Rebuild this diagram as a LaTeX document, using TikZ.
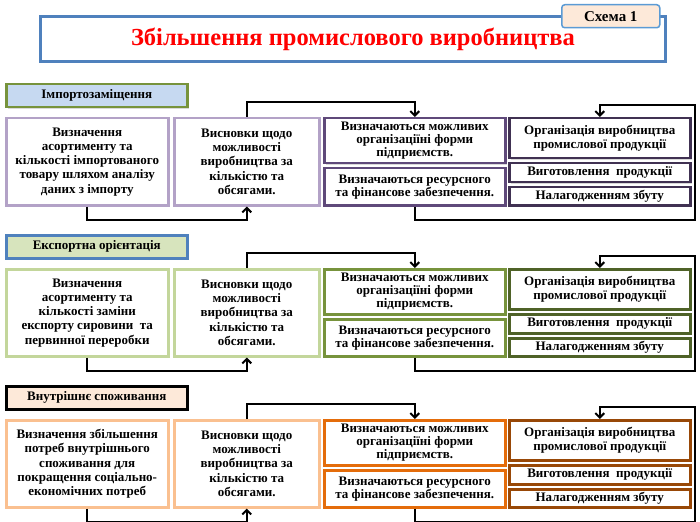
\documentclass[tikz,border=0pt]{standalone}
\usepackage{fontspec}
\setmainfont{Liberation Serif}
\usetikzlibrary{arrows.meta,shadows,calc}
\definecolor{purL}{HTML}{B3A2C7}
\definecolor{purM}{HTML}{5F497A}
\definecolor{purD}{HTML}{403152}
\definecolor{grnL}{HTML}{C3D69B}
\definecolor{grnM}{HTML}{77933C}
\definecolor{grnD}{HTML}{4F6228}
\definecolor{orgL}{HTML}{FAC090}
\definecolor{orgM}{HTML}{E46C0A}
\definecolor{orgD}{HTML}{984807}
\definecolor{hdrBlue}{HTML}{C6D9F1}
\definecolor{hdrGreen}{HTML}{D7E4BD}
\definecolor{hdrPeach}{HTML}{FDE9D9}
\definecolor{titleBlue}{HTML}{4F81BD}
\definecolor{tabBlue}{HTML}{5B9BD5}
\begin{document}
\begin{tikzpicture}[x=1pt,y=-1pt,
  font=\bfseries\fontsize{13}{14.3}\selectfont,
  shad/.style={drop shadow={shadow xshift=1.5pt,shadow yshift=-1.5pt,opacity=0.3}},
  box/.style={draw,line width=2.5pt,fill=white,anchor=north west,align=center,inner sep=0.5pt,shad},
  hdr/.style={box,font=\bfseries\fontsize{13}{14}\selectfont},
  tight/.style={font=\bfseries\fontsize{13}{13}\selectfont},
  conn/.style={draw,line width=2pt,-{Straight Barb[length=4.5pt,width=9pt]}},
  titlebox/.style={draw=titleBlue,line width=3pt,fill=white,anchor=north west,shad,
    text=red,font=\bfseries\fontsize{24.5}{28}\selectfont},
  tabbox/.style={draw=tabBlue,line width=1.5pt,fill=hdrPeach,rounded corners=3pt,anchor=north west,
    font=\bfseries\fontsize{15}{16}\selectfont}
]
\useasboundingbox (0,0) rectangle (700,521);

% title
\node[titlebox,minimum width=625pt,minimum height=45pt] (title) at (39,15) {Збільшення промислового виробництва};
\node[tabbox,minimum width=98pt,minimum height=23pt] (tab) at (561,4) {Схема 1};

% ---------- row 1 ----------
\node[hdr,draw=grnM,fill=hdrBlue,minimum width=181pt,minimum height=23pt] (h1) at (5,83) {Імпортозаміщення};
\node[box,draw=purL,minimum width=162pt,minimum height=87pt] (a1) at (5,117)
  {Визначення\\асортименту та\\кількості імпортованого\\товару шляхом аналізу\\даних з імпорту};
\node[box,draw=purL,minimum width=145pt,minimum height=87pt] (b1) at (173,117)
  {Висновки щодо\\можливості\\виробництва за\\кількістю та\\обсягами.};
\node[box,tight,draw=purM,minimum width=181pt,minimum height=45pt] (c1a) at (323,117)
  {Визначаються можливих\\організаціїні форми\\підприємств.};
\node[box,tight,draw=purM,minimum width=181pt,minimum height=37pt] (c1b) at (323,167)
  {Визначаються ресурсного\\та фінансове забезпечення.};
\node[box,draw=purD,minimum width=181pt,minimum height=40pt] (d1a) at (508,117)
  {Організація виробництва\\промислової продукції};
\node[box,draw=purD,minimum width=181pt,minimum height=19pt] (d1b) at (508,162) {Виготовлення\ \ продукції};
\node[box,draw=purD,minimum width=181pt,minimum height=18pt] (d1c) at (508,186) {Налагодженням збуту};
\coordinate (r1) at (695,105);
\draw[conn] (a1.south) -- ++(0,13) -| (b1.south);
\draw[conn] (b1.north) -- ++(0,-15) -| (c1a.north);
\draw[conn] (c1b.south) -- ++(0,13) -| (r1) -| (d1a.north);

% ---------- row 2 ----------
\begin{scope}[yshift=-151pt]
\node[hdr,draw=titleBlue,fill=hdrGreen,minimum width=181pt,minimum height=23pt] (h2) at (5,83) {Експортна орієнтація};
\node[box,draw=grnL,minimum width=162pt,minimum height=87pt] (a2) at (5,117)
  {Визначення\\асортименту та\\кількості заміни\\експорту сировини\ \ та\\первинної переробки};
\node[box,draw=grnL,minimum width=145pt,minimum height=87pt] (b2) at (173,117)
  {Висновки щодо\\можливості\\виробництва за\\кількістю та\\обсягами.};
\node[box,tight,draw=grnM,minimum width=181pt,minimum height=45pt] (c2a) at (323,117)
  {Визначаються можливих\\організаціїні форми\\підприємств.};
\node[box,tight,draw=grnM,minimum width=181pt,minimum height=37pt] (c2b) at (323,167)
  {Визначаються ресурсного\\та фінансове забезпечення.};
\node[box,draw=grnD,minimum width=181pt,minimum height=40pt] (d2a) at (508,117)
  {Організація виробництва\\промислової продукції};
\node[box,draw=grnD,minimum width=181pt,minimum height=19pt] (d2b) at (508,162) {Виготовлення\ \ продукції};
\node[box,draw=grnD,minimum width=181pt,minimum height=18pt] (d2c) at (508,186) {Налагодженням збуту};
\coordinate (r2) at (695,105);
\end{scope}
\draw[conn] (a2.south) -- ++(0,13) -| (b2.south);
\draw[conn] (b2.north) -- ++(0,-15) -| (c2a.north);
\draw[conn] (c2b.south) -- ++(0,13) -| (r2) -| (d2a.north);

% ---------- row 3 ----------
\begin{scope}[yshift=-302pt]
\node[hdr,draw=black,fill=hdrPeach,minimum width=181pt,minimum height=23pt] (h3) at (5,83) {Внутрішнє споживання};
\node[box,draw=orgL,minimum width=162pt,minimum height=87pt] (a3) at (5,117)
  {Визначення збільшення\\потреб внутрішнього\\споживання для\\покращення соціально-\\економічних потреб};
\node[box,draw=orgL,minimum width=145pt,minimum height=87pt] (b3) at (173,117)
  {Висновки щодо\\можливості\\виробництва за\\кількістю та\\обсягами.};
\node[box,tight,draw=orgM,minimum width=181pt,minimum height=45pt] (c3a) at (323,117)
  {Визначаються можливих\\організаціїні форми\\підприємств.};
\node[box,tight,draw=orgM,minimum width=181pt,minimum height=37pt] (c3b) at (323,167)
  {Визначаються ресурсного\\та фінансове забезпечення.};
\node[box,draw=orgD,minimum width=181pt,minimum height=40pt] (d3a) at (508,117)
  {Організація виробництва\\промислової продукції};
\node[box,draw=orgD,minimum width=181pt,minimum height=19pt] (d3b) at (508,162) {Виготовлення\ \ продукції};
\node[box,draw=orgD,minimum width=181pt,minimum height=18pt] (d3c) at (508,186) {Налагодженням збуту};
\coordinate (r3) at (695,105);
\end{scope}
\draw[conn] (a3.south) -- ++(0,13) -| (b3.south);
\draw[conn] (b3.north) -- ++(0,-15) -| (c3a.north);
\draw[conn] (c3b.south) -- ++(0,13) -| (r3) -| (d3a.north);
\end{tikzpicture}
\end{document}
